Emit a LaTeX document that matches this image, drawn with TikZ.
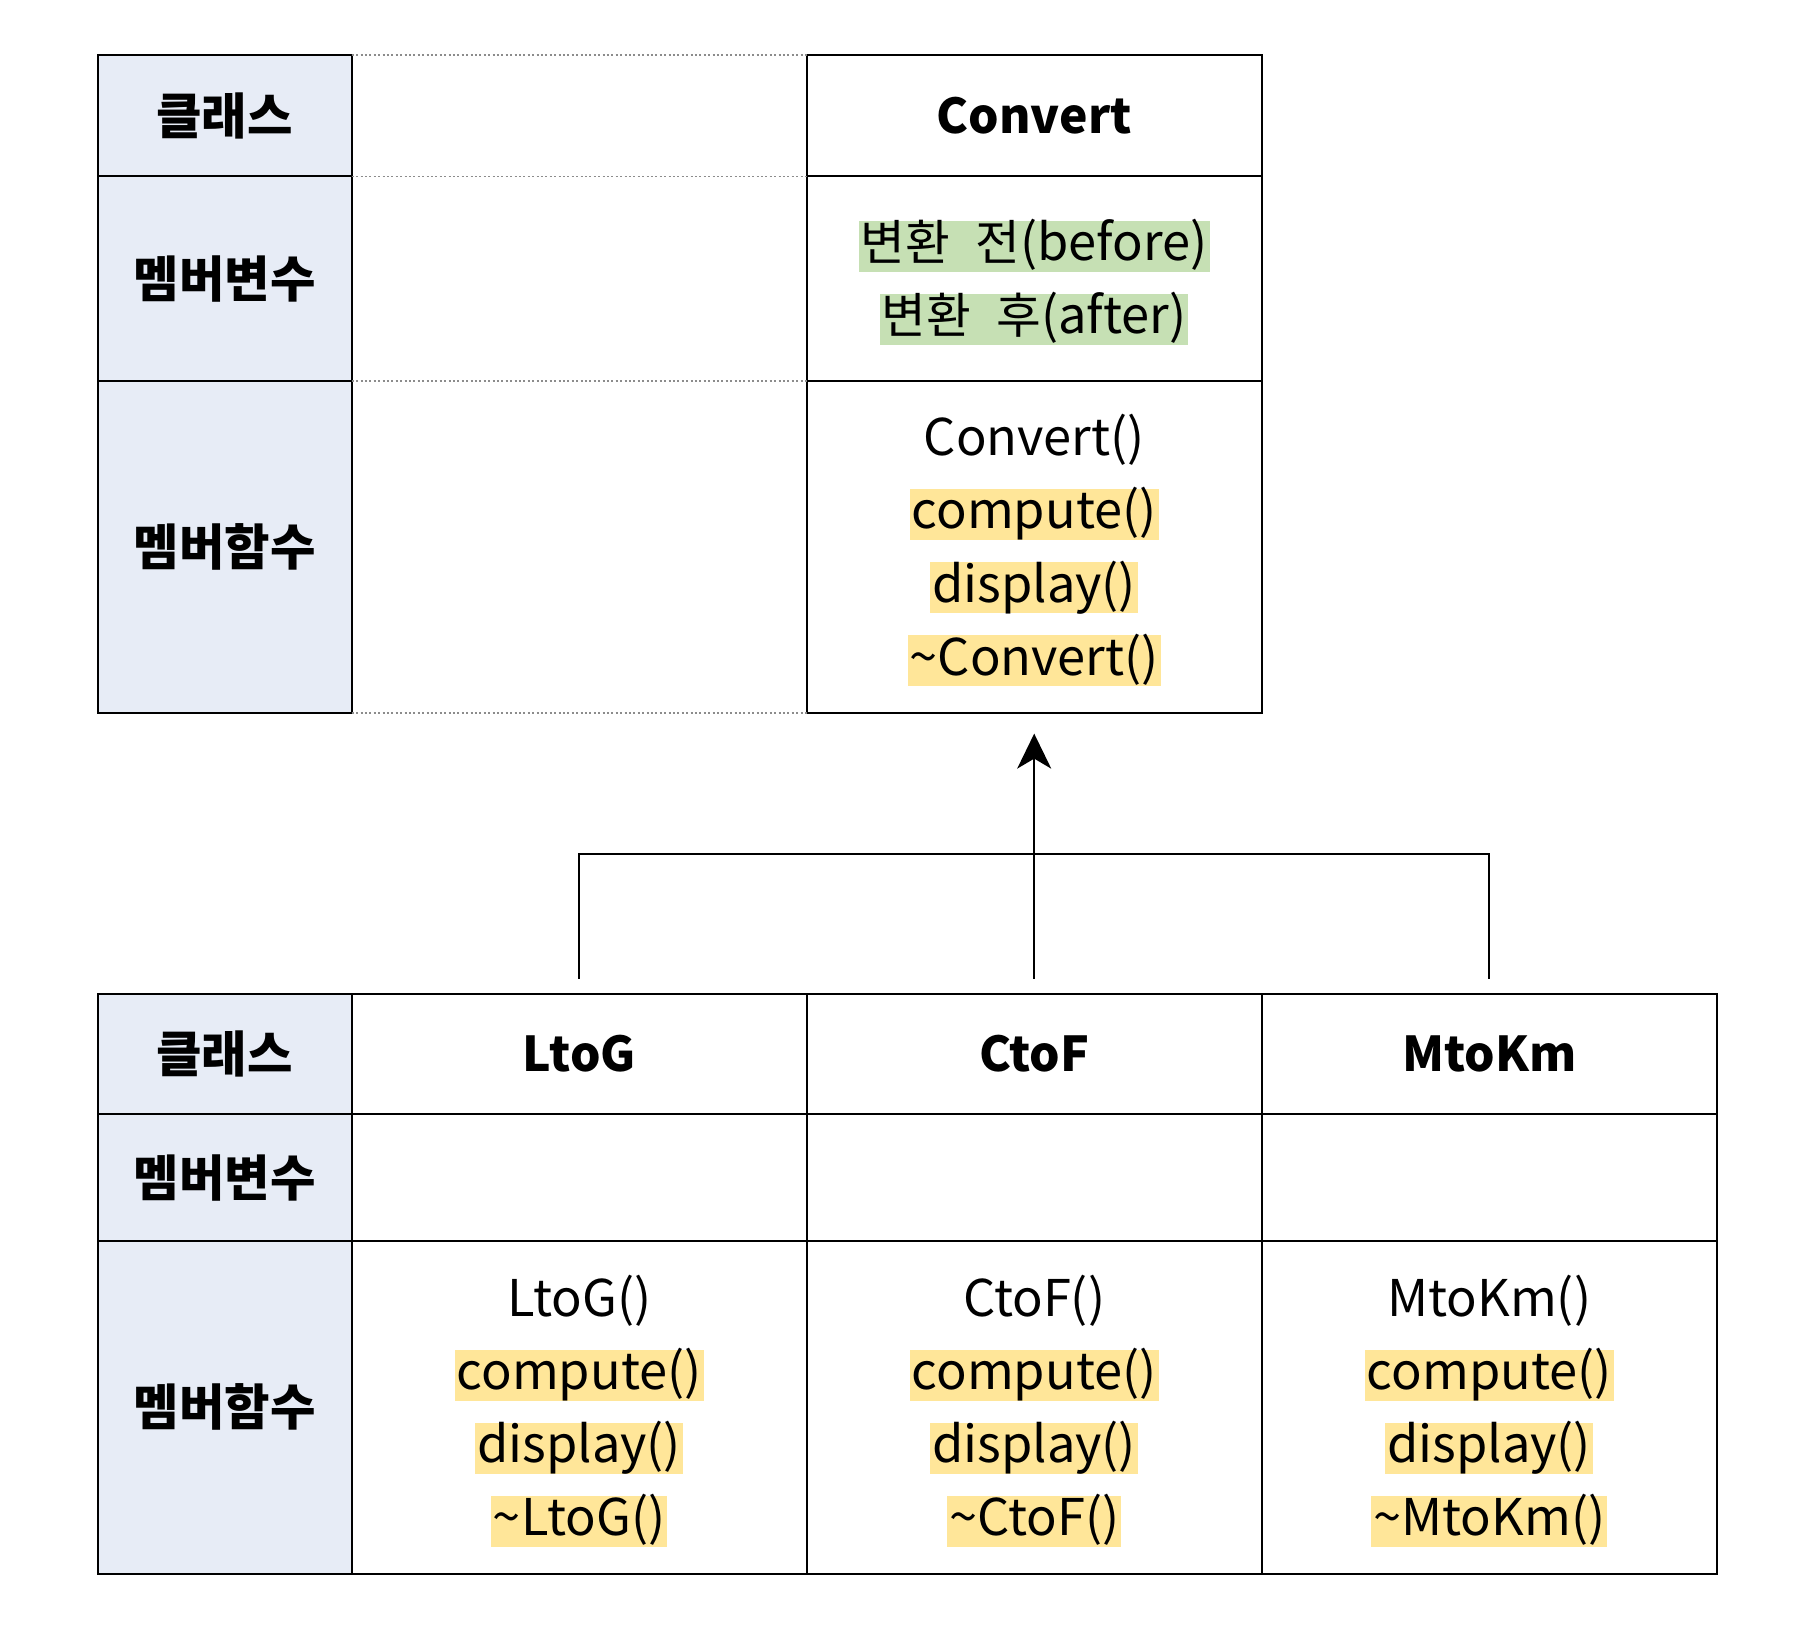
\documentclass[tikz,border=0pt]{standalone}
\usepackage{fontspec}
\setmainfont{Noto Sans CJK KR}
\usetikzlibrary{arrows.meta}
\definecolor{lblue}{HTML}{E7ECF6}
\definecolor{hlgreen}{HTML}{C6E0B4}
\definecolor{hlyellow}{HTML}{FFE699}
\definecolor{dotgray}{HTML}{8C8C8C}
\newcommand\krs[1]{{\fontsize{24.3pt}{29pt}\selectfont #1}}
\begin{document}
\begin{tikzpicture}[x=0.5pt,y=-0.5pt,
 cell/.style={draw=black,line width=1pt,inner sep=0pt,outer sep=0pt,anchor=north west},
 hcell/.style={cell,fill=lblue},
 wA/.style={minimum width=127.1pt},
 wB/.style={minimum width=227.5pt},
 lbl/.style={font=\fontsize{24.7}{29}\selectfont\bfseries,inner sep=0pt},
 ttl/.style={font=\fontsize{24}{29}\selectfont\bfseries,inner sep=0pt},
 ln/.style={font=\fontsize{25.3}{30}\selectfont,inner xsep=1pt,inner ysep=0pt,text height=20pt,text depth=5.5pt},
 hy/.style={ln,fill=hlyellow},
 hg/.style={ln,fill=hlgreen},
 dotln/.style={draw=dotgray,line width=0.9pt,dash pattern=on 1pt off 1.2pt},
 conn/.style={draw=black,line width=1pt}]
\useasboundingbox (0,0) rectangle (1820,1630);
% ---------- top table ----------
\node[hcell,wA,minimum height=60.9pt] (t1) at (97.5,54.6) {};
\node[hcell,wA,minimum height=102.15pt] (t2) at (97.5,176.4) {};
\node[hcell,wA,minimum height=166pt] (t3) at (97.5,380.7) {};
\node[cell,wB,minimum height=60.9pt] (c1) at (806.7,54.6) {};
\node[cell,wB,minimum height=102.15pt] (c2) at (806.7,176.4) {};
\node[cell,wB,minimum height=166pt] (c3) at (806.7,380.7) {};
\draw[dotln] (t1.north east) -- (c1.north west);
\draw[dotln] (t2.north east) -- (c2.north west);
\draw[dotln] (t3.north east) -- (c3.north west);
\draw[dotln] (t3.south east) -- (c3.south west);
\node[lbl] (t1l) at (t1.center) {클래스};
\node[lbl] (t2l) at (t2.center) {멤버변수};
\node[lbl] (t3l) at (t3.center) {멤버함수};
\node[ttl] (c1l) at (c1.center) {Convert};
\node[hg] (cv1) at (1034.2,246) {\krs{변환}\hspace{0.5em}\krs{전}(before)};
\node[hg] (cv2) at (1034.2,319.1) {\krs{변환}\hspace{0.5em}\krs{후}(after)};
\node[ln] (cf1) at (1034.2,441.3) {Convert()};
\node[hy] (cf2) at (1034.2,514.4) {compute()};
\node[hy] (cf3) at (1034.2,587.5) {display()};
\node[hy] (cf4) at (1034.2,660.6) {\textasciitilde Convert()};
% ---------- bottom table ----------
\node[hcell,wA,minimum height=60.35pt] (b1) at (97.5,993.6) {};
\node[hcell,wA,minimum height=63.25pt] (b2) at (97.5,1114.3) {};
\node[hcell,wA,minimum height=166.55pt] (b3) at (97.5,1240.8) {};
\node[lbl] (b1l) at (b1.center) {클래스};
\node[lbl] (b2l) at (b2.center) {멤버변수};
\node[lbl] (b3l) at (b3.center) {멤버함수};
\foreach \n/\x/\name in {L/351.7/LtoG, C/806.7/CtoF, M/1261.7/MtoKm}{
  \node[cell,wB,minimum height=60.35pt] (\n1) at (\x,993.6) {};
  \node[cell,wB,minimum height=63.25pt] (\n2) at (\x,1114.3) {};
  \node[cell,wB,minimum height=166.55pt] (\n3) at (\x,1240.8) {};
  \node[ttl] (\n1l) at (\n1.center) {\name};
  \node[ln] (\n f1) at ([yshift=52.7pt]\n3.center) {\name()};
  \node[hy] (\n f2) at ([yshift=16.15pt]\n3.center) {compute()};
  \node[hy] (\n f3) at ([yshift=-20.4pt]\n3.center) {display()};
  \node[hy] (\n f4) at ([yshift=-56.95pt]\n3.center) {\textasciitilde\name()};
}
% ---------- inheritance connector ----------
\coordinate (s1) at (579.2,978.5);
\coordinate (s2) at (1034.2,978.5);
\coordinate (s3) at (1489.2,978.5);
\coordinate (h1) at (579.2,854.3);
\coordinate (h3) at (1489.2,854.3);
\coordinate (tip) at (1034.2,733.6);
\draw[conn] (s1) -- (h1) -- (h3) -- (s3);
\draw[conn,-{Stealth[length=17.5pt,width=17pt,inset=5pt]}] (s2) -- (tip);
\end{tikzpicture}
\end{document}
